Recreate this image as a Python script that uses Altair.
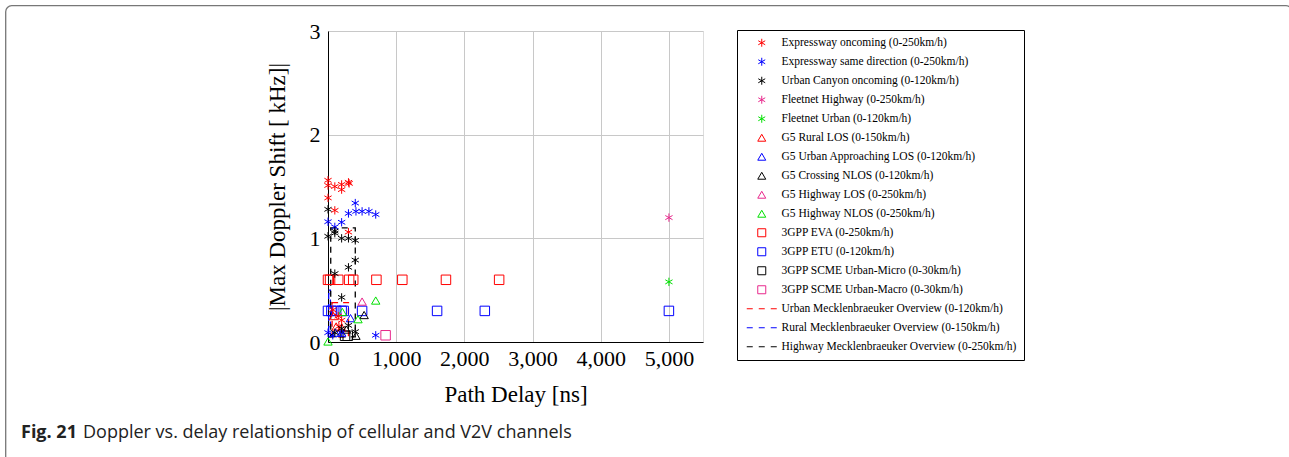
import altair as alt
import pandas as pd

# ---------------- data ----------------
labels = [
    "Expressway oncoming (0-250km/h)",
    "Expressway same direction (0-250km/h)",
    "Urban Canyon oncoming (0-120km/h)",
    "Fleetnet Highway (0-250km/h)",
    "Fleetnet Urban (0-120km/h)",
    "G5 Rural LOS (0-150km/h)",
    "G5 Urban Approaching LOS (0-120km/h)",
    "G5 Crossing NLOS (0-120km/h)",
    "G5 Highway LOS (0-250km/h)",
    "G5 Highway NLOS (0-250km/h)",
    "3GPP EVA (0-250km/h)",
    "3GPP ETU (0-120km/h)",
    "3GPP SCME Urban-Micro (0-30km/h)",
    "3GPP SCME Urban-Macro (0-30km/h)",
    "Urban Mecklenbraeuker Overview (0-120km/h)",
    "Rural Mecklenbraeuker Overview (0-150km/h)",
    "Highway Mecklenbraeuker Overview (0-250km/h)",
]
colors = ["#ff0000", "#0000ff", "#000000", "#e8288c", "#00e000",
          "#ff0000", "#0000ff", "#000000", "#e8288c", "#00e000",
          "#ff0000", "#0000ff", "#000000", "#e8288c",
          "#ff0000", "#0000ff", "#000000"]

ASTER = "M0,-1L0,1M-0.866,-0.5L0.866,0.5M-0.866,0.5L0.866,-0.5"
DASH = "M-3.75,0H-2.25M-0.75,0H0.75M2.25,0H3.75"
shapes = [ASTER] * 5 + ["triangle-up"] * 5 + ["square"] * 4 + [DASH] * 3

# asterisk series (delay ns, doppler kHz)
exp_onc_x = [0, 0, 0, 100, 200, 200, 300, 310, 100, 300, 70, 150, 200, 160]
exp_onc_y = [1.56, 1.51, 1.39, 1.50, 1.52, 1.47, 1.54, 1.53, 1.27, 1.06, 0.31, 0.25, 0.21, 0.15]
exp_same_x = [0, 100, 200, 300, 400, 410, 500, 600, 700, 0, 70, 200, 700]
exp_same_y = [1.16, 1.11, 1.155, 1.24, 1.34, 1.26, 1.26, 1.26, 1.23, 0.09, 0.065, 0.09, 0.065]
canyon_x = [0, 0, 100, 100, 200, 300, 400, 400, 300, 100, 200, 300, 400, 200, 100]
canyon_y = [1.28, 1.02, 1.07, 1.05, 1.00, 1.00, 0.98, 0.79, 0.72, 0.66, 0.43, 0.16, 0.10, 0.13, 0.09]
fleet_hwy_x = [5000]
fleet_hwy_y = [1.20]
fleet_urb_x = [5000]
fleet_urb_y = [0.58]

# triangle series
g5_rural_x = [80, 120, 200]
g5_rural_y = [0.25, 0.15, 0.14]
g5_urban_x = [110, 200, 330]
g5_urban_y = [0.09, 0.09, 0.23]
g5_cross_x = [270, 410, 530]
g5_cross_y = [0.12, 0.06, 0.26]
g5_hwy_los_x = [500]
g5_hwy_los_y = [0.39]
g5_hwy_nlos_x = [0, 210, 440, 700]
g5_hwy_nlos_y = [0.005, 0.29, 0.22, 0.40]

# square series
eva_x = [0, 30, 150, 310, 370, 710, 1090, 1730, 2510]
eva_y = [0.6, 0.6, 0.6, 0.6, 0.6, 0.6, 0.6, 0.6, 0.6]
etu_x = [0, 50, 120, 200, 230, 500, 1600, 2300, 5000]
etu_y = [0.3, 0.3, 0.3, 0.3, 0.3, 0.3, 0.3, 0.3, 0.3]
scme_micro_x = [250, 290]
scme_micro_y = [0.06, 0.06]
scme_macro_x = [845]
scme_macro_y = [0.065]

# Mecklenbraeuker overview boxes
box_label = [labels[14], labels[15], labels[16]]
box_x0 = [60, 10, 40]
box_x1 = [300, 35, 400]
box_y0 = [0.05, 0.05, 0.05]
box_y1 = [0.38, 0.50, 1.10]
box_color = ["#ff0000", "#0000ff", "#000000"]


def frame(idx, xs, ys):
    return pd.DataFrame({"delay": xs, "doppler": ys, "series": labels[idx]})


aster_df = pd.concat([
    frame(0, exp_onc_x, exp_onc_y), frame(1, exp_same_x, exp_same_y),
    frame(2, canyon_x, canyon_y), frame(3, fleet_hwy_x, fleet_hwy_y),
    frame(4, fleet_urb_x, fleet_urb_y)])
tri_df = pd.concat([
    frame(5, g5_rural_x, g5_rural_y), frame(6, g5_urban_x, g5_urban_y),
    frame(7, g5_cross_x, g5_cross_y), frame(8, g5_hwy_los_x, g5_hwy_los_y),
    frame(9, g5_hwy_nlos_x, g5_hwy_nlos_y)])
sq_df = pd.concat([
    frame(10, eva_x, eva_y), frame(11, etu_x, etu_y),
    frame(12, scme_micro_x, scme_micro_y), frame(13, scme_macro_x, scme_macro_y)])

SERIF = "Liberation Serif"

legend = alt.Legend(
    title=None, orient="none", legendX=409, legendY=-1,
    padding=7, symbolOffset=12, labelOffset=14, rowPadding=6,
    symbolSize=64, symbolStrokeWidth=1, labelFont=SERIF,
    labelFontSize=11.5, labelColor="black", labelLimit=400,
    strokeColor="black", fillColor="white",
)

xscale = alt.Scale(domain=[0, 5500], nice=False, zero=False)
yscale = alt.Scale(domain=[0, 3], nice=False)
axis_style = dict(labelFont=SERIF, titleFont=SERIF, labelFontSize=22, titleFontSize=23,
                  labelColor="black", titleColor="black", titleFontWeight="normal",
                  gridColor="#c8c8c8", gridWidth=1, domainColor="black", domainWidth=1,
                  grid=True, ticks=False)
xaxis = alt.Axis(title="Path Delay [ns]", values=[0, 1000, 2000, 3000, 4000, 5000],
                 format=",.0f", labelPadding=6, titlePadding=14, **axis_style)
yaxis = alt.Axis(title="|Max Doppler Shift [ kHz]|", values=[0, 1, 2, 3], format="d",
                 labelPadding=8, titlePadding=20, **axis_style)

color_enc = alt.Color("series:N", scale=alt.Scale(domain=labels, range=colors), legend=legend)
shape_enc = alt.Shape("series:N", scale=alt.Scale(domain=labels, range=shapes), legend=legend)


def points(df, size):
    return alt.Chart(df).mark_point(filled=False, strokeWidth=1, size=size, opacity=1).encode(
        x=alt.X("delay:Q", scale=xscale, axis=xaxis),
        y=alt.Y("doppler:Q", scale=yscale, axis=yaxis),
        color=color_enc,
        shape=shape_enc,
    )


box_df = pd.DataFrame({"series": box_label, "x0": box_x0, "x1": box_x1,
                       "y0": box_y0, "y1": box_y1, "col": box_color})
boxes = alt.Chart(box_df).mark_rect(filled=False, strokeDash=[6, 5], strokeWidth=1.3).encode(
    x=alt.X("x0:Q", scale=xscale, axis=xaxis),
    x2="x1:Q",
    y=alt.Y("y0:Q", scale=yscale, axis=yaxis),
    y2="y1:Q",
    stroke=alt.Stroke("col:N", scale=None, legend=None),
)

border = alt.Chart(pd.DataFrame({"a": [0]})).mark_rect(
    fill=None, stroke="#777777", strokeWidth=1.3, cornerRadius=6
).encode(x=alt.value(-322.3), x2=alt.value(964), y=alt.value(-25.3), y2=alt.value(440))

cap_bold = alt.Chart(pd.DataFrame({"t": ["Fig. 21"]})).mark_text(
    font="Open Sans", fontSize=18, fontWeight="bold", align="left", baseline="alphabetic", color="#222"
).encode(text="t:N", x=alt.value(21 - 328), y=alt.value(438 - 31))
cap_text = alt.Chart(pd.DataFrame({"t": ["Doppler vs. delay relationship of cellular and V2V channels"]})).mark_text(
    font="Open Sans", fontSize=18, align="left", baseline="alphabetic", color="#222"
).encode(text="t:N", x=alt.value(83 - 328), y=alt.value(438 - 31))

chart = alt.layer(
    border, boxes,
    points(sq_df, 90), points(tri_df, 70), points(aster_df, 70),
    cap_bold, cap_text,
).properties(
    width=375, height=311,
    padding={"left": 328, "top": 31, "right": 586, "bottom": 115},
    autosize=alt.AutoSizeParams(type="none"),
).configure_view(
    stroke="black", strokeWidth=1
).configure(background="white")

chart.save("out.html", embed_options={"renderer": "svg", "actions": False})
